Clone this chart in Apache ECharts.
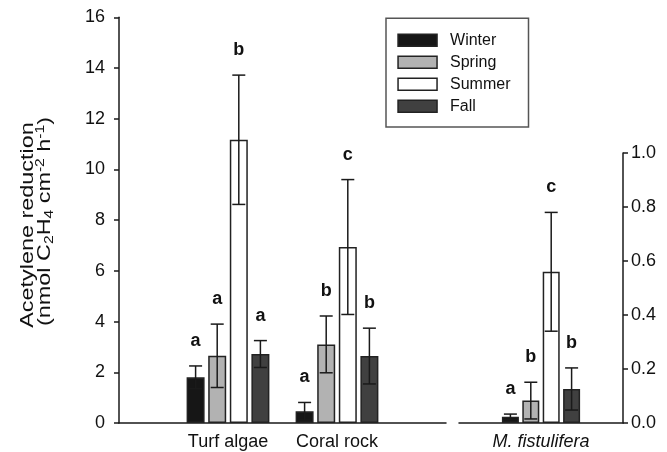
<!DOCTYPE html>
<html>
<head>
<meta charset="utf-8">
<script src="https://cdn.jsdelivr.net/npm/echarts@6/dist/echarts.min.js"></script>
<style>html,body{margin:0;padding:0;background:#fff;}#c{width:667px;height:452px;}</style>
</head>
<body>
<div id="c"></div>
<script>
// ---- data ----
const seasons = ['Winter', 'Spring', 'Summer', 'Fall'];
const leftCategories = ['', 'Turf algae', 'Coral rock', ''];
const rightCategories = ['M. fistulifera'];
const turfMeans = [1.80, 2.65, 11.17, 2.72];
const turfErr = [0.45, 1.25, 2.55, 0.53];
const turfLetters = ['a', 'a', 'b', 'a'];
const coralMeans = [0.46, 3.10, 6.94, 2.64];
const coralErr = [0.35, 1.12, 2.66, 1.10];
const coralLetters = ['a', 'b', 'c', 'b'];
const mfMeans = [0.023, 0.083, 0.560, 0.126];
const mfErr = [0.010, 0.068, 0.220, 0.078];
const mfLetters = ['a', 'b', 'c', 'b'];
const leftTicks = [0, 2, 4, 6, 8, 10, 12, 14, 16];
const rightTicks = [0, 0.2, 0.4, 0.6, 0.8, 1.0];

// ---- styles ----
const fills = ['#161616', '#b2b2b2', '#ffffff', '#404040'];
const edge = '#222222';
const FONT = 'Arial, "Liberation Sans", Helvetica, sans-serif';
const leftBarW = 18, rightBarW = 17, gapRatio = 0.2;

const chart = echarts.init(document.getElementById('c'));

function errSeries(xIdx, yIdx, points, letters, barW) {
  const pitch = barW * (1 + gapRatio);
  return {
    type: 'custom',
    xAxisIndex: xIdx, yAxisIndex: yIdx,
    z: 5, silent: true,
    data: points,
    renderItem: function (params, api) {
      const cat = api.value(0), s = api.value(1), m = api.value(2), e = api.value(3);
      const top = api.coord([cat, m + e]);
      const bot = api.coord([cat, Math.max(m - e, 0)]);
      const x = top[0] + (s - 1.5) * pitch;
      const cap = 6.5;
      const ls = { stroke: '#1a1a1a', lineWidth: 1.5 };
      return {
        type: 'group',
        children: [
          { type: 'line', shape: { x1: x, y1: top[1], x2: x, y2: bot[1] }, style: ls },
          { type: 'line', shape: { x1: x - cap, y1: top[1], x2: x + cap, y2: top[1] }, style: ls },
          { type: 'line', shape: { x1: x - cap, y1: bot[1], x2: x + cap, y2: bot[1] }, style: ls },
          { type: 'text', style: { text: letters[params.dataIndex], x: x, y: top[1] - 25,
              fill: '#111', font: 'bold 18px ' + FONT, align: 'center', verticalAlign: 'middle',
              textAlign: 'center', textVerticalAlign: 'middle' } }
        ]
      };
    }
  };
}

const series = [];
seasons.forEach(function (name, i) {
  series.push({
    name: name, type: 'bar', xAxisIndex: 0, yAxisIndex: 0,
    barWidth: leftBarW, barGap: (gapRatio * 100) + '%',
    data: ['-', turfMeans[i], coralMeans[i], '-'],
    itemStyle: { color: fills[i], borderColor: edge, borderWidth: 1.5 },
    silent: true
  });
});
seasons.forEach(function (name, i) {
  series.push({
    name: name, type: 'bar', xAxisIndex: 1, yAxisIndex: 1,
    barWidth: rightBarW, barGap: (gapRatio * 100) + '%',
    data: [mfMeans[i]],
    itemStyle: { color: fills[i], borderColor: edge, borderWidth: 1.5 },
    silent: true
  });
});
const leftPts = [], leftLet = [], rightPts = [], rightLet = [];
seasons.forEach(function (n, i) {
  leftPts.push([1, i, turfMeans[i], turfErr[i]]); leftLet.push(turfLetters[i]);
});
seasons.forEach(function (n, i) {
  leftPts.push([2, i, coralMeans[i], coralErr[i]]); leftLet.push(coralLetters[i]);
});
seasons.forEach(function (n, i) {
  rightPts.push([0, i, mfMeans[i], mfErr[i]]); rightLet.push(mfLetters[i]);
});
series.push(errSeries(0, 0, leftPts, leftLet, leftBarW));
series.push(errSeries(1, 1, rightPts, rightLet, rightBarW));

const axisLine = { show: true, lineStyle: { color: '#1a1a1a', width: 1.5 } };
const tickStyle = { show: true, length: 5, lineStyle: { color: '#1a1a1a', width: 1.5 } };

const option = {
  animation: false,
  backgroundColor: '#ffffff',
  textStyle: { fontFamily: FONT },
  grid: [
    { left: 119, top: 17.3, width: 327, height: 405.7 },
    { left: 459, top: 153, width: 164, height: 270 }
  ],
  xAxis: [
    { type: 'category', gridIndex: 0, data: leftCategories, boundaryGap: false,
      axisLine: axisLine, axisTick: { show: false },
      axisLabel: { fontSize: 18, color: '#111', margin: 10, fontFamily: FONT, interval: 0 } },
    { type: 'category', gridIndex: 1, data: rightCategories, boundaryGap: true,
      axisLine: axisLine, axisTick: { show: false },
      axisLabel: { fontSize: 18, color: '#111', margin: 10, fontStyle: 'italic', fontFamily: FONT } }
  ],
  yAxis: [
    { type: 'value', gridIndex: 0, min: leftTicks[0], max: leftTicks[leftTicks.length - 1],
      interval: leftTicks[1] - leftTicks[0], position: 'left',
      axisLine: axisLine, axisTick: tickStyle, splitLine: { show: false },
      axisLabel: { fontSize: 18, color: '#111', margin: 14, fontFamily: FONT } },
    { type: 'value', gridIndex: 1, min: rightTicks[0], max: rightTicks[rightTicks.length - 1],
      interval: 0.2, position: 'right',
      axisLine: axisLine, axisTick: tickStyle, splitLine: { show: false },
      axisLabel: { fontSize: 18, color: '#111', margin: 8, fontFamily: FONT,
        formatter: function (v) { return v.toFixed(1); } } }
  ],
  legend: {
    orient: 'vertical', left: 386, top: 18.3,
    padding: [14, 18, 12.7, 11.3],
    borderColor: '#555', borderWidth: 1.5,
    itemWidth: 39, itemHeight: 12, itemGap: 6,
    selectedMode: false,
    textStyle: { fontSize: 16, color: '#111', fontFamily: FONT, lineHeight: 16, padding: [0, 0, 0, 8] },
    data: seasons.map(function (n, i) {
      return { name: n, icon: 'rect', itemStyle: { color: fills[i], borderColor: edge, borderWidth: 1.5 } };
    })
  },
  graphic: [
    { type: 'text', x: 27.5, y: 225, rotation: Math.PI / 2, scaleX: 1.3, scaleY: 1.05,
      style: { text: 'Acetylene reduction', font: '18px ' + FONT, fill: '#111',
        align: 'center', verticalAlign: 'middle', textAlign: 'center', textVerticalAlign: 'middle' } },
    { type: 'text', x: 45, y: 221.5, rotation: Math.PI / 2, scaleX: 1.3, scaleY: 1.05,
      style: { text: '(nmol C{sub|2}H{sub|4} cm{sup|-2} h{sup|-1})', fontSize: 18, fontFamily: FONT, fill: '#111',
        align: 'center', verticalAlign: 'middle', textAlign: 'center', textVerticalAlign: 'middle',
        lineHeight: 20,
        rich: {
          sub: { fontSize: 12, fontFamily: FONT, fill: '#111', lineHeight: 12, verticalAlign: 'bottom' },
          sup: { fontSize: 12, fontFamily: FONT, fill: '#111', lineHeight: 12, verticalAlign: 'top' }
        } } }
  ],
  series: series
};
chart.setOption(option);
</script>
</body>
</html>
